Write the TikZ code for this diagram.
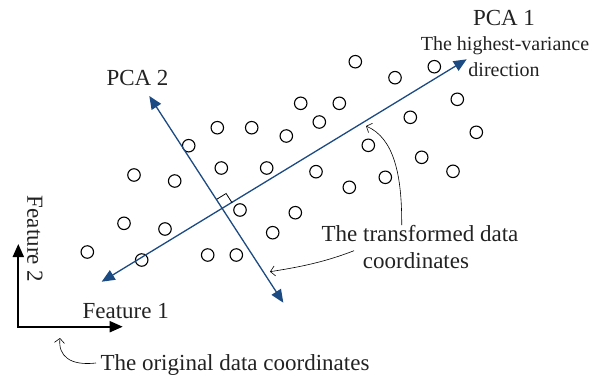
\documentclass[tikz,border=0pt]{standalone}
\usepackage{fontspec}
\setmainfont{Liberation Serif}
\usetikzlibrary{arrows.meta}
\definecolor{pcablue}{HTML}{1C4A82}
\definecolor{txtgray}{HTML}{222222}
\begin{document}
\begin{tikzpicture}[x=1pt,y=-1pt,
  datapt/.style={circle,draw=black,line width=1.1pt,minimum size=12.5pt,inner sep=0pt},
  pcaaxis/.style={draw=pcablue,line width=1.3pt,{Triangle[length=13pt,width=11pt]}-{Triangle[length=13pt,width=11pt]}},
  featax/.style={draw=black,line width=2pt,{Triangle[length=13pt,width=11pt]}-{Triangle[length=13pt,width=11pt]}},
  callout/.style={draw=black,line width=0.6pt,-{Straight Barb[length=4.5pt,width=10pt]}},
  lbl/.style={font=\fontsize{23}{27}\selectfont,text=txtgray,inner sep=0pt,anchor=base},
  slbl/.style={font=\fontsize{20}{24}\selectfont,text=txtgray,inner sep=0pt,anchor=base}]
\useasboundingbox (0,0) rectangle (599,380);

% data points
\foreach \px/\py [count=\i] in {
  355.3/61.7, 434.3/66.7, 395/77.7, 300.7/103.3, 339.3/103.3, 457.3/99.3,
  217.3/127.7, 251.7/127.7, 286.3/136, 319.3/122, 410.3/117.3, 476.3/132.3,
  188.7/145.7, 368.3/145.3, 421.7/157.3, 134/175, 174.7/181, 221.3/168,
  266.7/168, 316/171.7, 385.3/177.3, 453/171.3, 349.3/187.3, 240/210,
  295.3/212.7, 124/223.3, 165/229, 272.7/232.7, 87.3/252, 141.7/260,
  207.7/255, 236.3/255}
  \node[datapt] (c\i) at (\px,\py) {};

% PCA axes
\coordinate (p1s) at (101.7,281.7);
\coordinate (p1e) at (466.7,59.3);
\coordinate (p2s) at (283.3,302.7);
\coordinate (p2e) at (149.3,96);
\draw[pcaaxis] (p1s) -- (p1e);
\draw[pcaaxis] (p2s) -- (p2e);

% right-angle mark
\draw[black,line width=0.8pt] (216.7,199.3) -- (226.1,193.5) -- (232.1,202.8);

% feature axes
\coordinate (orig0) at (18.3,326.7);
\coordinate (f2tip) at (18.3,244);
\coordinate (f1tip) at (122.7,326.7);
\draw[featax] (f2tip) -- (orig0) -- (f1tip);

% labels
\node[lbl] (pca1) at (504,25) {PCA 1};
\node[slbl] (hv1) at (505,50.7) {The highest-variance};
\node[slbl] (hv2) at (504,76) {direction};
\node[lbl] (pca2) at (137.5,85) {PCA 2};
\node[lbl] (feat1) at (125.7,318.3) {Feature 1};
\node[lbl,rotate=-90,anchor=center] (feat2) at (35,239) {Feature 2};
\node[lbl] (origtxt) at (235,370) {The original data coordinates};
\node[lbl] (tr1) at (420,241.7) {The transformed data};
\node[lbl] (tr2) at (416,268.3) {coordinates};

% callouts
\coordinate (oa) at (96,363);
\coordinate (ob) at (60,338);
\draw[callout] (oa) .. controls (70,366) and (58,356) .. (ob);
\coordinate (ta) at (401.7,225);
\coordinate (tb) at (366,126);
\draw[callout] (ta) .. controls (402,175) and (394,138) .. (tb);
\coordinate (tc) at (354,250.7);
\coordinate (td) at (270,271.7);
\draw[callout] (tc) .. controls (325,262) and (300,267) .. (td);
\end{tikzpicture}
\end{document}
